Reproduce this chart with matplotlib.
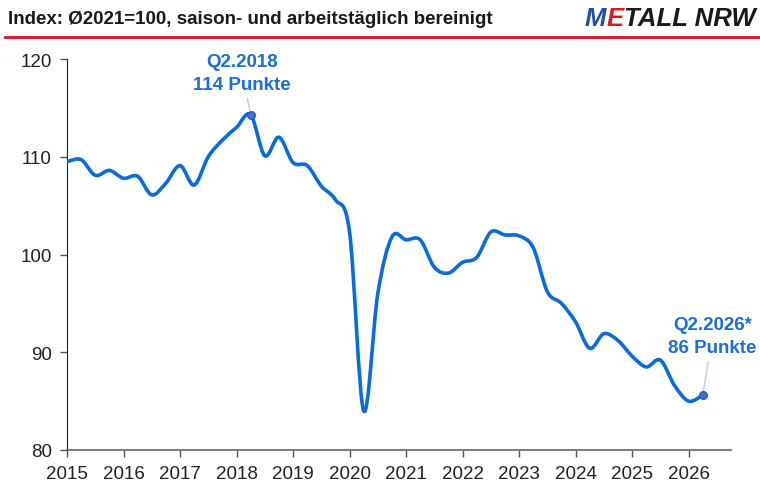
import numpy as np
import matplotlib
matplotlib.use("Agg")
import matplotlib.pyplot as plt
from matplotlib.path import Path
from matplotlib.patches import PathPatch

# quarterly index values, Q1.2015 .. Q2.2026
years = [2015, 2016, 2017, 2018, 2019, 2020, 2021, 2022, 2023, 2024, 2025, 2026]
index_values = [
    109.5, 109.7, 108.1, 108.6,   # 2015
    107.8, 108.0, 106.1, 107.3,   # 2016
    109.1, 107.1, 110.0, 111.7,   # 2017
    113.0, 114.3, 110.1, 112.0,   # 2018
    109.4, 109.1, 107.0, 105.6,   # 2019
    102.3, 84.0, 96.0, 101.8,     # 2020
    101.5, 101.5, 98.7, 98.1,     # 2021
    99.2, 99.7, 102.3, 102.0,     # 2022
    101.9, 100.7, 96.2, 95.0,     # 2023
    93.1, 90.4, 91.9, 91.2,       # 2024
    89.6, 88.5, 89.2, 86.6,       # 2025
    85.0, 85.6,                   # 2026
]
y_ticks = [80, 90, 100, 110, 120]
title = "Index: \u00d82021=100, saison- und arbeitst\u00e4glich bereinigt"
peak_label = "Q2.2018\n114 Punkte"
last_label = "Q2.2026*\n86 Punkte"

blue = "#0a6bdb"
text_blue = "#1c6ed8"
plt.rcParams["font.family"] = ["Liberation Sans", "DejaVu Sans"]

x = 2015 + np.arange(len(index_values)) / 4.0
y = np.array(index_values)

fig = plt.figure(figsize=(7.6, 4.85), dpi=100)
ax = fig.add_axes([67 / 760, 1 - 451 / 485, (731 - 67) / 760, (451 - 60) / 485])

# smooth curve through the quarterly points (catmull-rom as bezier segments)
pts = np.column_stack([x, y])
verts = [pts[0]]
codes = [Path.MOVETO]
for i in range(len(pts) - 1):
    p0 = pts[max(i - 1, 0)]
    p1 = pts[i]
    p2 = pts[i + 1]
    p3 = pts[min(i + 2, len(pts) - 1)]
    verts += [p1 + (p2 - p0) / 6, p2 - (p3 - p1) / 6, p2]
    codes += [Path.CURVE4] * 3
ax.add_patch(PathPatch(Path(verts, codes), fill=False, edgecolor=blue, lw=2.6,
                       capstyle="round", joinstyle="round", zorder=3))

# highlighted points
i_peak = int(np.argmax(y))
i_last = len(y) - 1
for i, lab, dx, dy in [(i_peak, peak_label, -0.15, 2.2), (i_last, last_label, 0.17, 4.0)]:
    ax.plot(x[i], y[i], "o", ms=5.5, color="#4a6fcf", mec="#2d5bc4", zorder=4)
    ax.annotate(lab, xy=(x[i], y[i]), xytext=(x[i] + dx, y[i] + dy),
                ha="center", va="bottom", fontsize=13.5, fontweight="bold",
                color=text_blue, linespacing=1.5,
                arrowprops=dict(arrowstyle="-", color="#b9cbe6", lw=1,
                                shrinkA=2, shrinkB=2))

ax.set_xlim(2015, 2026.75)
ax.set_ylim(80, 120)
ax.set_xticks(years)
ax.set_yticks(y_ticks)
ax.tick_params(labelsize=13.5, colors="#222222", length=5, width=1)
ax.tick_params(axis="x", pad=6, color="#555555")
ax.tick_params(axis="y", pad=6, color="#555555")
for s in ["top", "right"]:
    ax.spines[s].set_visible(False)
ax.spines["left"].set_color("#222222")
ax.spines["bottom"].set_color("#666666")
ax.spines["bottom"].set_linewidth(1.2)

# header
fig.text(8 / 760, 1 - 20 / 485, title, fontsize=13.5, fontweight="bold",
         color="#1a1a1a", va="center", ha="left")
fig.add_artist(plt.Line2D([5 / 760, 1], [1 - 38 / 485] * 2, color="#d7141f", lw=2))

logo_y = 1 - 19 / 485
logo_font = dict(fontsize=18.5, fontweight="bold", style="italic", va="center")
t = fig.text(585 / 760, logo_y, "M", color="#1f4fa8", **logo_font)
fig.canvas.draw()
bb = t.get_window_extent()
t2 = fig.text(bb.x1 / 760, logo_y, "E", color="#e3141f", **logo_font)
fig.canvas.draw()
bb2 = t2.get_window_extent()
fig.text(bb2.x1 / 760, logo_y, "TALL NRW", color="#1a1a1a", **logo_font)

fig.savefig("out.png", dpi=100)
